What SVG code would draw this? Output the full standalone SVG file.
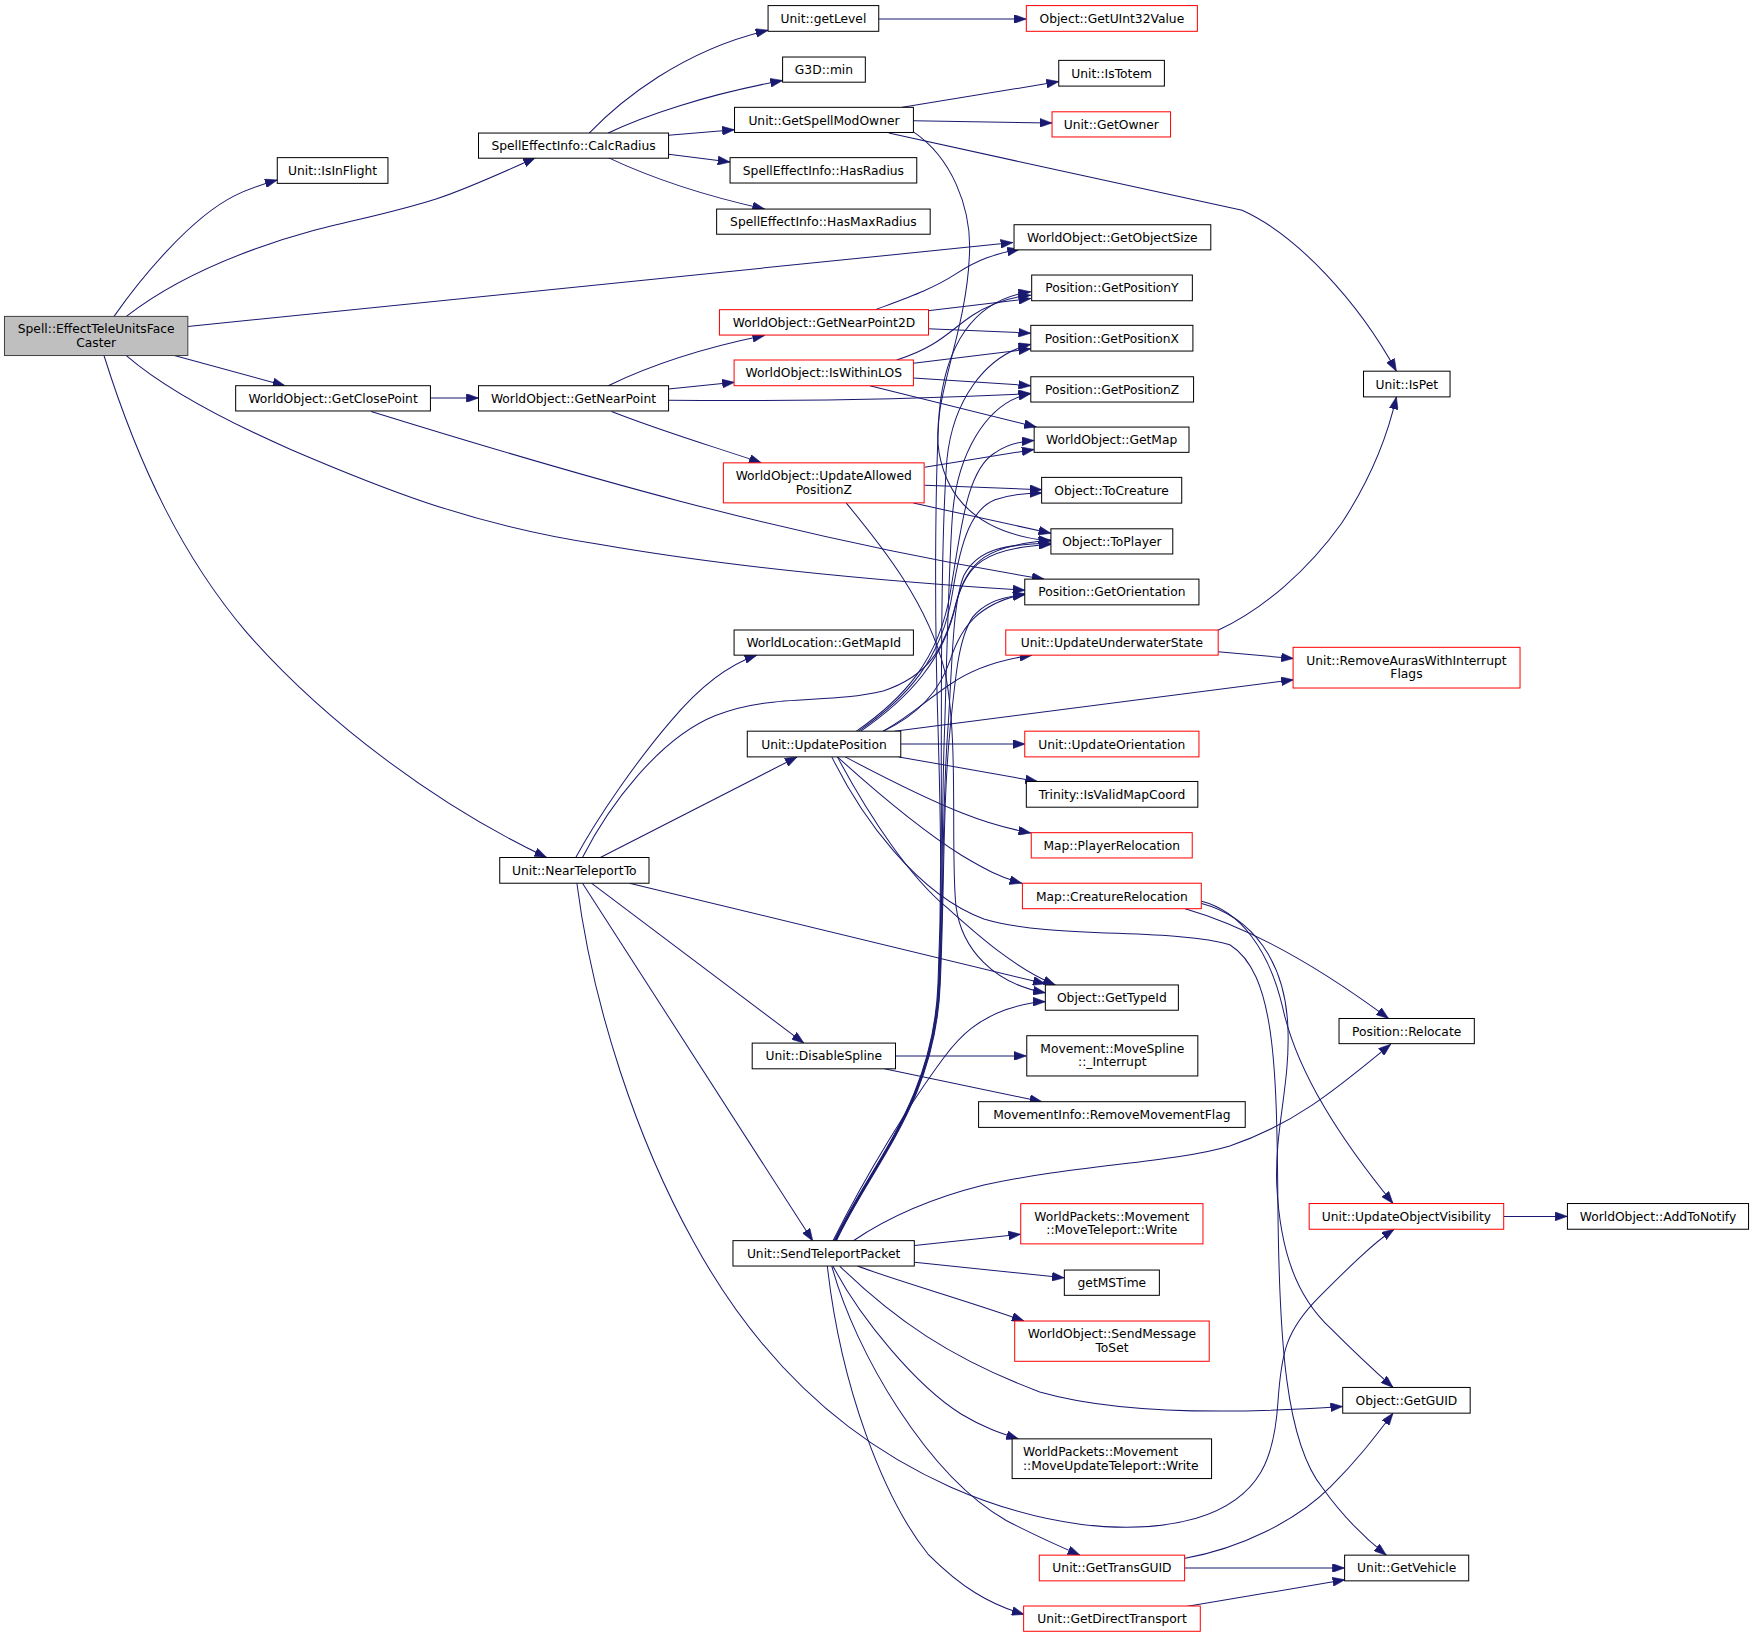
<svg xmlns="http://www.w3.org/2000/svg" width="1753" height="1637" viewBox="0 0 1753 1637">
<style>
.nd rect{fill:#ffffff;stroke:#000000;stroke-width:0.9}
.nd.red rect{stroke:#ff0000}
.nd.root rect{fill:#bfbfbf;stroke:#404040}
.nd text{font-family:"DejaVu Sans","Liberation Sans",sans-serif;font-size:11px;fill:#000000;text-anchor:middle}
.nd text.l{text-anchor:start}
#edges path{fill:none;stroke:#191970;stroke-width:0.9;marker-end:url(#arr)}
</style>
<defs>
<marker id="arr" markerUnits="userSpaceOnUse" markerWidth="11" markerHeight="8" refX="11" refY="4" orient="auto">
<path d="M0,0 L11,4 L0,8 z" fill="#191970" stroke="#191970" stroke-width="0.5"/>
</marker>
</defs>
<rect width="1753" height="1637" fill="#ffffff"/>
<g transform="scale(1.118)">
<g id="edges">
<path d="M102,283 C125,250 170,195 210,175 C222,169 234,165 248,161"/>
<path d="M113,283 C140,262 180,240 230,222 C290,200 330,197 390,178 C420,168 450,154 479,141"/>
<path d="M168,292 L906,217"/>
<path d="M156,318 L255,345"/>
<path d="M113,318 C150,350 210,380 260,402 C330,432 420,470 537,487 C640,505 760,518 917,528"/>
<path d="M93,318 C125,420 165,500 220,565 C290,645 390,720 489,767"/>
<path d="M527,119 C555,90 610,45 687,27"/>
<path d="M544,119 C575,104 630,85 700,72"/>
<path d="M598,121 L657,116"/>
<path d="M598,138 L653,145"/>
<path d="M544,141 C580,158 630,175 684,187"/>
<path d="M786,17 L918,17"/>
<path d="M807,96 L947,73"/>
<path d="M817,108 L941,110"/>
<path d="M795,119 C900,142 1050,175 1111,188 C1160,210 1215,270 1249,332"/>
<path d="M817,118 C850,140 870,185 867,230 C864,300 832,360 840,405 C848,450 880,478 940,484"/>
<path d="M385,356 L428,356"/>
<path d="M332,368 C500,420 700,480 934,518"/>
<path d="M544,345 C575,330 620,313 684,300"/>
<path d="M598,348 L657,342"/>
<path d="M598,358 C700,359 800,358 922,352"/>
<path d="M547,368 C590,385 640,400 681,414"/>
<path d="M783,277 C815,265 835,258 855,245 C875,232 890,227 912,223"/>
<path d="M830,278 L922,267"/>
<path d="M830,294 L922,298"/>
<path d="M802,322 C840,310 850,295 870,282 C885,272 900,266 922,264"/>
<path d="M817,325 L922,312"/>
<path d="M817,338 L922,345"/>
<path d="M778,345 L927,382"/>
<path d="M827,418 L925,402"/>
<path d="M827,434 L932,438"/>
<path d="M817,450 L940,477"/>
<path d="M757,450 C790,490 830,540 845,600 C858,660 850,760 855,810 C860,850 890,880 935,888"/>
<path d="M766,654 C808,625 840,590 850,530 C860,470 865,420 890,405 C900,398 910,395 925,394"/>
<path d="M768,654 C810,625 843,590 852,530 C860,480 870,455 890,447 C905,442 918,441 932,441"/>
<path d="M770,654 C812,625 845,590 855,540 C865,500 885,488 940,483"/>
<path d="M790,654 C820,640 840,620 850,590 C860,560 875,540 917,531"/>
<path d="M790,654 C815,640 830,625 850,612 C870,598 895,590 923,586"/>
<path d="M800,654 L1157,608"/>
<path d="M806,665.5 L917,665.5"/>
<path d="M804,677 L928,699"/>
<path d="M756,677 C790,695 830,715 860,727 C885,737 905,742 922,745"/>
<path d="M749,677 C780,705 820,740 860,765 C880,777 895,785 914,790"/>
<path d="M749,677 C780,735 815,785 846,811 C870,832 905,865 944,881"/>
<path d="M744,677 C770,730 820,800 880,822 C940,840 1050,830 1100,845 C1140,870 1142,950 1143,1075 C1144,1200 1150,1290 1183,1331 C1200,1355 1220,1375 1240,1391"/>
<path d="M515,767 C535,730 570,680 600,645 C625,615 650,595 677,586"/>
<path d="M521,767 C545,720 590,660 640,640 C690,620 740,630 790,618 C830,605 845,580 855,540 C865,505 880,490 940,487"/>
<path d="M537,767 L713,677"/>
<path d="M563,790 C700,823 820,852 935,880"/>
<path d="M529,790 L719,933"/>
<path d="M521,790 L727,1110"/>
<path d="M516,790 C530,900 570,1020 620,1110 C680,1220 760,1290 850,1330 C930,1365 1010,1375 1070,1358 C1130,1340 1140,1300 1143,1255 C1146,1210 1150,1190 1180,1160 C1205,1135 1228,1112 1247,1099.5"/>
<path d="M1060,812.8 C1120,830 1180,865 1242,911"/>
<path d="M1074,806 C1110,815 1135,850 1147,900 C1160,960 1200,1020 1246,1076.5"/>
<path d="M1074,808 C1120,820 1150,860 1152,920 C1154,970 1140,1010 1142,1060 C1145,1120 1160,1160 1190,1188 C1210,1208 1228,1225 1246,1241"/>
<path d="M801,944.5 L918,944.5"/>
<path d="M791,956 L932,985.4"/>
<path d="M745,1110 C775,1050 815,985 845,945 C860,925 875,912 900,903 C915,898 925,896 935,896"/>
<path d="M746,1110 C779,1040 835,985 839,880 C843,790 841,720 839,650 C836,560 836,440 840,370 C845,310 870,268 922,261"/>
<path d="M746.5,1110 C779.5,1040 835.5,985 839.5,880 C843.5,790 841.5,720 842,650 C842,560 843,460 847,411 C852,360 880,318 922,308"/>
<path d="M747,1110 C780,1040 836,985 840,880 C844,790 842,720 845,650 C847,580 849,500 852,460 C856,410 880,360 922,352"/>
<path d="M747.5,1110 C780.5,1040 836.5,985 840.5,880 C844.5,790 842.5,720 848,650 C852,590 852,540 862,515 C875,490 900,487 940,486"/>
<path d="M748,1110 C781,1040 837,985 841,880 C845,790 843,720 850,650 C855,600 858,570 870,552 C882,537 900,533 917,532"/>
<path d="M763,1110 C800,1085 840,1070 880,1060 C960,1042 1050,1040 1100,1025 C1160,1005 1200,970 1244,934"/>
<path d="M818,1114 L913,1104"/>
<path d="M818,1129 L952,1143"/>
<path d="M767,1132.4 C800,1145 870,1165 916,1181.6"/>
<path d="M751,1132.4 C800,1180 850,1215 930,1245 C1000,1265 1100,1265 1201,1258"/>
<path d="M745,1132.4 C770,1180 820,1240 860,1265 C880,1277 895,1282 911,1287"/>
<path d="M744,1132.4 C765,1210 830,1320 900,1360 C925,1373 945,1382 966,1391"/>
<path d="M740,1132.4 C752,1240 790,1340 830,1390 C860,1420 885,1435 916,1444"/>
<path d="M1059,1394 C1110,1385 1160,1360 1190,1330 C1215,1305 1230,1285 1246,1264"/>
<path d="M1059.6,1402.5 L1202.7,1402.5"/>
<path d="M1061,1437 L1203,1413"/>
<path d="M1089,564 C1130,545 1170,510 1200,468 C1225,430 1240,395 1249,355"/>
<path d="M1089.5,583 L1157,589"/>
<path d="M1345,1088 L1402,1088"/>
</g>
<g id="n0" class="nd root"><rect x="4" y="283" width="164" height="35"/><text x="86" y="298">Spell::EffectTeleUnitsFace</text><text x="86" y="310.5">Caster</text></g>
<g id="n1" class="nd"><rect x="248" y="141" width="99" height="23"/><text x="297.5" y="156.5">Unit::IsInFlight</text></g>
<g id="n2" class="nd"><rect x="428" y="119" width="170" height="22.5"/><text x="513" y="134.5">SpellEffectInfo::CalcRadius</text></g>
<g id="n3" class="nd"><rect x="687" y="5" width="99" height="23"/><text x="736.5" y="20.5">Unit::getLevel</text></g>
<g id="n4" class="nd red"><rect x="918" y="5" width="153" height="23"/><text x="994.5" y="20.5">Object::GetUInt32Value</text></g>
<g id="n5" class="nd"><rect x="700" y="51" width="74" height="22.5"/><text x="737" y="66.5">G3D::min</text></g>
<g id="n6" class="nd"><rect x="657" y="96" width="160" height="22.5"/><text x="737" y="111.5">Unit::GetSpellModOwner</text></g>
<g id="n7" class="nd"><rect x="947" y="54" width="94.5" height="23"/><text x="994.3" y="69.5">Unit::IsTotem</text></g>
<g id="n8" class="nd red"><rect x="941" y="100" width="106" height="22.5"/><text x="994" y="115.5">Unit::GetOwner</text></g>
<g id="n9" class="nd"><rect x="653" y="141" width="167" height="22.7"/><text x="736.5" y="156.5">SpellEffectInfo::HasRadius</text></g>
<g id="n10" class="nd"><rect x="641" y="187" width="191" height="22.5"/><text x="736.5" y="202.5">SpellEffectInfo::HasMaxRadius</text></g>
<g id="n11" class="nd"><rect x="907" y="201" width="176" height="22.5"/><text x="995" y="216.5">WorldObject::GetObjectSize</text></g>
<g id="n12" class="nd"><rect x="1219.6" y="332" width="77.4" height="23"/><text x="1258.3" y="347.5">Unit::IsPet</text></g>
<g id="n13" class="nd"><rect x="922.8" y="246" width="143.7" height="23"/><text x="994.6" y="261.5">Position::GetPositionY</text></g>
<g id="n14" class="nd red"><rect x="643.5" y="277" width="187" height="22.7"/><text x="737" y="292.5">WorldObject::GetNearPoint2D</text></g>
<g id="n15" class="nd"><rect x="922" y="291" width="145" height="23"/><text x="994.5" y="306.5">Position::GetPositionX</text></g>
<g id="n16" class="nd red"><rect x="656.6" y="322" width="160.4" height="23"/><text x="736.8" y="337.5">WorldObject::IsWithinLOS</text></g>
<g id="n17" class="nd"><rect x="922" y="337" width="145.6" height="22.6"/><text x="994.8" y="352.5">Position::GetPositionZ</text></g>
<g id="n18" class="nd"><rect x="210.8" y="345" width="174.2" height="22.6"/><text x="297.9" y="360.5">WorldObject::GetClosePoint</text></g>
<g id="n19" class="nd"><rect x="428" y="345" width="170" height="22.6"/><text x="513" y="360.5">WorldObject::GetNearPoint</text></g>
<g id="n20" class="nd"><rect x="925" y="382" width="138.5" height="22.6"/><text x="994.3" y="397.5">WorldObject::GetMap</text></g>
<g id="n21" class="nd red"><rect x="647" y="414" width="179.6" height="35.8"/><text x="736.8" y="429.5">WorldObject::UpdateAllowed</text><text x="736.8" y="441.5">PositionZ</text></g>
<g id="n22" class="nd"><rect x="931.7" y="427" width="125.3" height="23"/><text x="994.3" y="442.5">Object::ToCreature</text></g>
<g id="n23" class="nd"><rect x="940" y="473" width="109" height="22.5"/><text x="994.5" y="488.5">Object::ToPlayer</text></g>
<g id="n24" class="nd"><rect x="916.6" y="518" width="155.8" height="23"/><text x="994.5" y="533.5">Position::GetOrientation</text></g>
<g id="n25" class="nd"><rect x="656.6" y="563.5" width="160.4" height="22.5"/><text x="736.8" y="579">WorldLocation::GetMapId</text></g>
<g id="n26" class="nd red"><rect x="899.6" y="563.5" width="190" height="22.5"/><text x="994.6" y="579">Unit::UpdateUnderwaterState</text></g>
<g id="n27" class="nd red"><rect x="1156.6" y="579" width="203" height="36.4"/><text x="1258" y="594.5">Unit::RemoveAurasWithInterrupt</text><text x="1258" y="606.5">Flags</text></g>
<g id="n28" class="nd"><rect x="668.4" y="654" width="137.3" height="23"/><text x="737" y="669.5">Unit::UpdatePosition</text></g>
<g id="n29" class="nd red"><rect x="916.6" y="654" width="155.8" height="23"/><text x="994.5" y="669.5">Unit::UpdateOrientation</text></g>
<g id="n30" class="nd"><rect x="918" y="699" width="153.4" height="23"/><text x="994.7" y="714.5">Trinity::IsValidMapCoord</text></g>
<g id="n31" class="nd red"><rect x="922.4" y="744.8" width="144" height="22.6"/><text x="994.4" y="760.3">Map::PlayerRelocation</text></g>
<g id="n32" class="nd"><rect x="447" y="767" width="133.5" height="23"/><text x="513.7" y="782.5">Unit::NearTeleportTo</text></g>
<g id="n33" class="nd red"><rect x="914.5" y="790" width="160" height="22.8"/><text x="994.5" y="805.5">Map::CreatureRelocation</text></g>
<g id="n34" class="nd"><rect x="935" y="881" width="119" height="22.6"/><text x="994.5" y="896.5">Object::GetTypeId</text></g>
<g id="n35" class="nd"><rect x="1197.7" y="911" width="121" height="22.5"/><text x="1258.2" y="926.5">Position::Relocate</text></g>
<g id="n36" class="nd"><rect x="672.8" y="933" width="128.2" height="23"/><text x="736.9" y="948.5">Unit::DisableSpline</text></g>
<g id="n37" class="nd"><rect x="918.4" y="926.4" width="153" height="36"/><text x="994.9" y="941.9">Movement::MoveSpline</text><text x="994.9" y="953.9">::_Interrupt</text></g>
<g id="n38" class="nd"><rect x="875.3" y="985.4" width="238.5" height="23"/><text x="994.5" y="1001">MovementInfo::RemoveMovementFlag</text></g>
<g id="n39" class="nd red"><rect x="1171" y="1076.5" width="174" height="23"/><text x="1258" y="1092">Unit::UpdateObjectVisibility</text></g>
<g id="n40" class="nd"><rect x="1402" y="1076.5" width="162" height="23"/><text x="1483" y="1092">WorldObject::AddToNotify</text></g>
<g id="n41" class="nd red"><rect x="913" y="1076.6" width="163" height="36"/><text x="994.5" y="1092">WorldPackets::Movement</text><text x="994.5" y="1104">::MoveTeleport::Write</text></g>
<g id="n42" class="nd"><rect x="655.6" y="1109.7" width="162.2" height="22.7"/><text x="736.7" y="1125.2">Unit::SendTeleportPacket</text></g>
<g id="n43" class="nd"><rect x="952" y="1136" width="85" height="22.6"/><text x="994.5" y="1151.5">getMSTime</text></g>
<g id="n44" class="nd red"><rect x="907.6" y="1181.6" width="174" height="36"/><text x="994.6" y="1197">WorldObject::SendMessage</text><text x="994.6" y="1209">ToSet</text></g>
<g id="n45" class="nd"><rect x="1201" y="1241" width="114" height="23"/><text x="1258" y="1256.5">Object::GetGUID</text></g>
<g id="n46" class="nd"><rect x="905.3" y="1287" width="178.4" height="35.5"/><text class="l" x="915" y="1302.5">WorldPackets::Movement</text><text class="l" x="915" y="1314.5">::MoveUpdateTeleport::Write</text></g>
<g id="n47" class="nd red"><rect x="929.6" y="1391" width="130" height="23"/><text x="994.6" y="1406.5">Unit::GetTransGUID</text></g>
<g id="n48" class="nd"><rect x="1202.7" y="1391" width="111" height="23"/><text x="1258.2" y="1406.5">Unit::GetVehicle</text></g>
<g id="n49" class="nd red"><rect x="915.6" y="1436.5" width="158" height="22.6"/><text x="994.6" y="1452">Unit::GetDirectTransport</text></g>
</g>
</svg>
